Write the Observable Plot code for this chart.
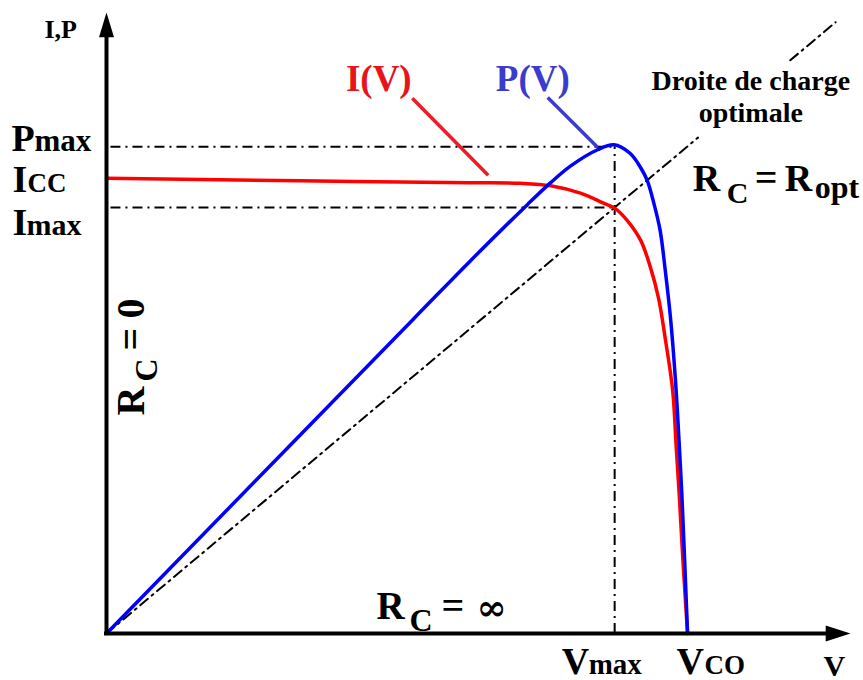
<!DOCTYPE html>
<html>
<head>
<meta charset="utf-8">
<script src="https://cdn.jsdelivr.net/npm/d3@7"></script>
<script src="https://cdn.jsdelivr.net/npm/@observablehq/plot@0.6"></script>
<style>
  body { margin: 0; background: #fff; }
  svg { display: block; }
</style>
</head>
<body>
<div id="chart"></div>
<script>
// ---- data (arbitrary units) ----
const ivVolts   = [0, 26.1, 48.9, 55.6, 59.7, 63.7, 66.8, 68.3, 70.0, 71.8, 73.1, 74.2, 75.1, 76.1, 76.55, 77.0, 77.5, 78.1];
const ivCurrent = [73.3, 72.9, 72.6, 72.5, 72.1, 70.9, 69.3, 68.5, 66.5, 63.3, 59.0, 54.0, 47.5, 39.1, 30.5, 21.9, 11.3, 0];

const pvVolts = [0, 41.3, 48.9, 56.6, 59.7, 62.4, 66.0, 68.2, 70.4, 71.8, 72.7, 73.5, 74.4, 75.1, 75.8, 76.5, 77.0, 77.35, 78.1];
const pvPower = [0, 50.7, 60.0, 69.1, 72.6, 75.3, 77.9, 78.7, 77.3, 75.0, 72.9, 69.6, 65.0, 58.5, 50.9, 40.3, 30.0, 21.9, 0];

const Vmax = 68.3, Vco = 78.1, Pmax = 78.4, Icc = 73.3, Imax = 68.6;
const axisEnd = 100;
// load line drawn in two pieces (gap behind its label), as voltage spans
const loadLineSpans = [[0, 79.5], [91.9, 98.0]];

// leader lines from curve labels to curves
const leaderI = [{x1: 41.1, y1: 86.2, x2: 51.3, y2: 73.8}];
const leaderP = [{x1: 59.3, y1: 86.3, x2: 66.0, y2: 78.3}];

const curveLabels = [
  {text: "I(V)", x: 36.6, y: 87.3, color: "#e8141c"},
  {text: "P(V)", x: 57.3, y: 87.3, color: "#3c3ccc"}
];
const loadLabel = [
  {text: "Droite de charge", x: 86.6, y: 87.6},
  {text: "optimale", x: 86.6, y: 82.3}
];
const roptAnchor = {x: 78.8, y: 71.2};
const rinfAnchor = {x: 36.3, y: 2.4};
const rzeroAnchor = {x: 5.0, y: 35.1};

// ---- build tables ----
const ivData = ivVolts.map((v, i) => ({v, val: ivCurrent[i]}));
const pvData = pvVolts.map((v, i) => ({v, val: pvPower[i]}));
const loadLine = loadLineSpans.flatMap(([a, b], k) => [
  {v: a, val: a * Imax / Vmax, seg: k},
  {v: b, val: b * Imax / Vmax, seg: k}
]);

const arrowUp = {draw(ctx, size) { const r = Math.sqrt(size / Math.PI); ctx.moveTo(0, 0); ctx.lineTo(-r, 3.3 * r); ctx.lineTo(r, 3.3 * r); ctx.closePath(); }};
const arrowRight = {draw(ctx, size) { const r = Math.sqrt(size / Math.PI); ctx.moveTo(0, 0); ctx.lineTo(-3.1 * r, -r); ctx.lineTo(-3.1 * r, r); ctx.closePath(); }};

const FONT = "Liberation Serif";
const dash = "10,5,2,5";

function txt(text, x, y, o) {
  return Plot.text([{text, x, y}], {
    x: "x", y: "y", text: "text",
    fontFamily: FONT, fontWeight: "bold",
    textAnchor: "start", lineAnchor: "bottom",
    fill: "black",
    ...o
  });
}

const chart = Plot.plot({
  width: 863,
  height: 680,
  marginLeft: 106,
  marginRight: 13,
  marginTop: 12,
  marginBottom: 47,
  x: {domain: [0, axisEnd], axis: null},
  y: {domain: [0, axisEnd], axis: null},
  marks: [
    // dash-dot guides
    Plot.ruleY([Pmax], {x1: 0.6, x2: Vmax, stroke: "black", strokeWidth: 2, strokeDasharray: dash}),
    Plot.ruleY([Imax], {x1: 0.6, x2: Vmax, stroke: "black", strokeWidth: 2, strokeDasharray: dash}),
    Plot.ruleX([Vmax], {y1: 0, y2: Pmax, stroke: "black", strokeWidth: 2, strokeDasharray: dash}),
    Plot.line(loadLine, {x: "v", y: "val", z: "seg", stroke: "black", strokeWidth: 2, strokeDasharray: dash}),

    // curves
    Plot.line(ivData, {x: "v", y: "val", stroke: "#ff0000", strokeWidth: 3.5, curve: "catmull-rom"}),
    Plot.line(pvData, {x: "v", y: "val", stroke: "#0000ff", strokeWidth: 3.5, curve: "catmull-rom"}),

    // leader lines
    Plot.link(leaderI, {x1: "x1", y1: "y1", x2: "x2", y2: "y2", stroke: "#ee1c24", strokeWidth: 3.5}),
    Plot.link(leaderP, {x1: "x1", y1: "y1", x2: "x2", y2: "y2", stroke: "#3c3ccc", strokeWidth: 3.5}),

    // axes
    Plot.ruleY([0], {x1: 0, x2: 97, stroke: "black", strokeWidth: 4, strokeLinecap: "square"}),
    Plot.ruleX([0], {y1: 0, y2: 96, stroke: "black", strokeWidth: 4, strokeLinecap: "square"}),
    Plot.dot([{x: 0, y: axisEnd}], {x: "x", y: "y", symbol: arrowUp, r: 7.5, fill: "black", stroke: "none"}),
    Plot.dot([{x: axisEnd, y: 0}], {x: "x", y: "y", symbol: arrowRight, r: 8, fill: "black", stroke: "none"}),

    // axis titles
    txt("I,P", 0, axisEnd, {dx: -62, dy: 25, fontSize: 26, letterSpacing: "3px"}),
    txt("V", axisEnd, 0, {dx: -27, dy: 42, fontSize: 30}),

    // y tick labels
    txt("P", 0, Pmax, {dx: -95, dy: 4, fontSize: 38}),
    txt("max", 0, Pmax, {dx: -72, dy: 4, fontSize: 31}),
    txt("I", 0, Icc, {dx: -94, dy: 14, fontSize: 38}),
    txt("CC", 0, Icc, {dx: -79, dy: 14, fontSize: 27}),
    txt("I", 0, Imax, {dx: -94, dy: 28, fontSize: 38}),
    txt("max", 0, Imax, {dx: -80, dy: 28, fontSize: 30}),

    // x tick labels
    txt("V", Vmax, 0, {dx: -53, dy: 40, fontSize: 38}),
    txt("max", Vmax, 0, {dx: -26, dy: 40, fontSize: 29}),
    txt("V", Vco, 0, {dx: -11, dy: 40, fontSize: 38}),
    txt("CO", Vco, 0, {dx: 17, dy: 40, fontSize: 27}),

    // curve labels
    ...curveLabels.map(d => txt(d.text, d.x, d.y, {textAnchor: "middle", fontSize: 37, fill: d.color})),
    ...loadLabel.map(d => txt(d.text, d.x, d.y, {textAnchor: "middle", fontSize: 28})),

    // R_C = R_opt
    txt("R", roptAnchor.x, roptAnchor.y, {fontSize: 38}),
    txt("C", roptAnchor.x, roptAnchor.y, {dx: 34, dy: 12, fontSize: 30}),
    txt("=", roptAnchor.x, roptAnchor.y, {dx: 62, fontSize: 40}),
    txt("R", roptAnchor.x, roptAnchor.y, {dx: 92, fontSize: 38}),
    txt("opt", roptAnchor.x, roptAnchor.y, {dx: 122, dy: 7, fontSize: 32}),

    // R_C = ∞
    txt("R", rinfAnchor.x, rinfAnchor.y, {fontSize: 39}),
    txt("C", rinfAnchor.x, rinfAnchor.y, {dx: 33, dy: 12, fontSize: 32}),
    txt("=", rinfAnchor.x, rinfAnchor.y, {dx: 65, fontSize: 40}),
    txt("∞", rinfAnchor.x, rinfAnchor.y, {dx: 100, dy: 1, fontSize: 36, fontFamily: "DejaVu Serif"}),

    // R_C = 0 (vertical)
    txt("R", rzeroAnchor.x, rzeroAnchor.y, {rotate: -90, fontSize: 40}),
    txt("C", rzeroAnchor.x, rzeroAnchor.y, {rotate: -90, dx: 13, dy: -34, fontSize: 32}),
    txt("=", rzeroAnchor.x, rzeroAnchor.y, {rotate: -90, dy: -65, fontSize: 40}),
    txt("0", rzeroAnchor.x, rzeroAnchor.y, {rotate: -90, dy: -97, fontSize: 40})
  ]
});
document.getElementById("chart").appendChild(chart);
</script>
</body>
</html>
